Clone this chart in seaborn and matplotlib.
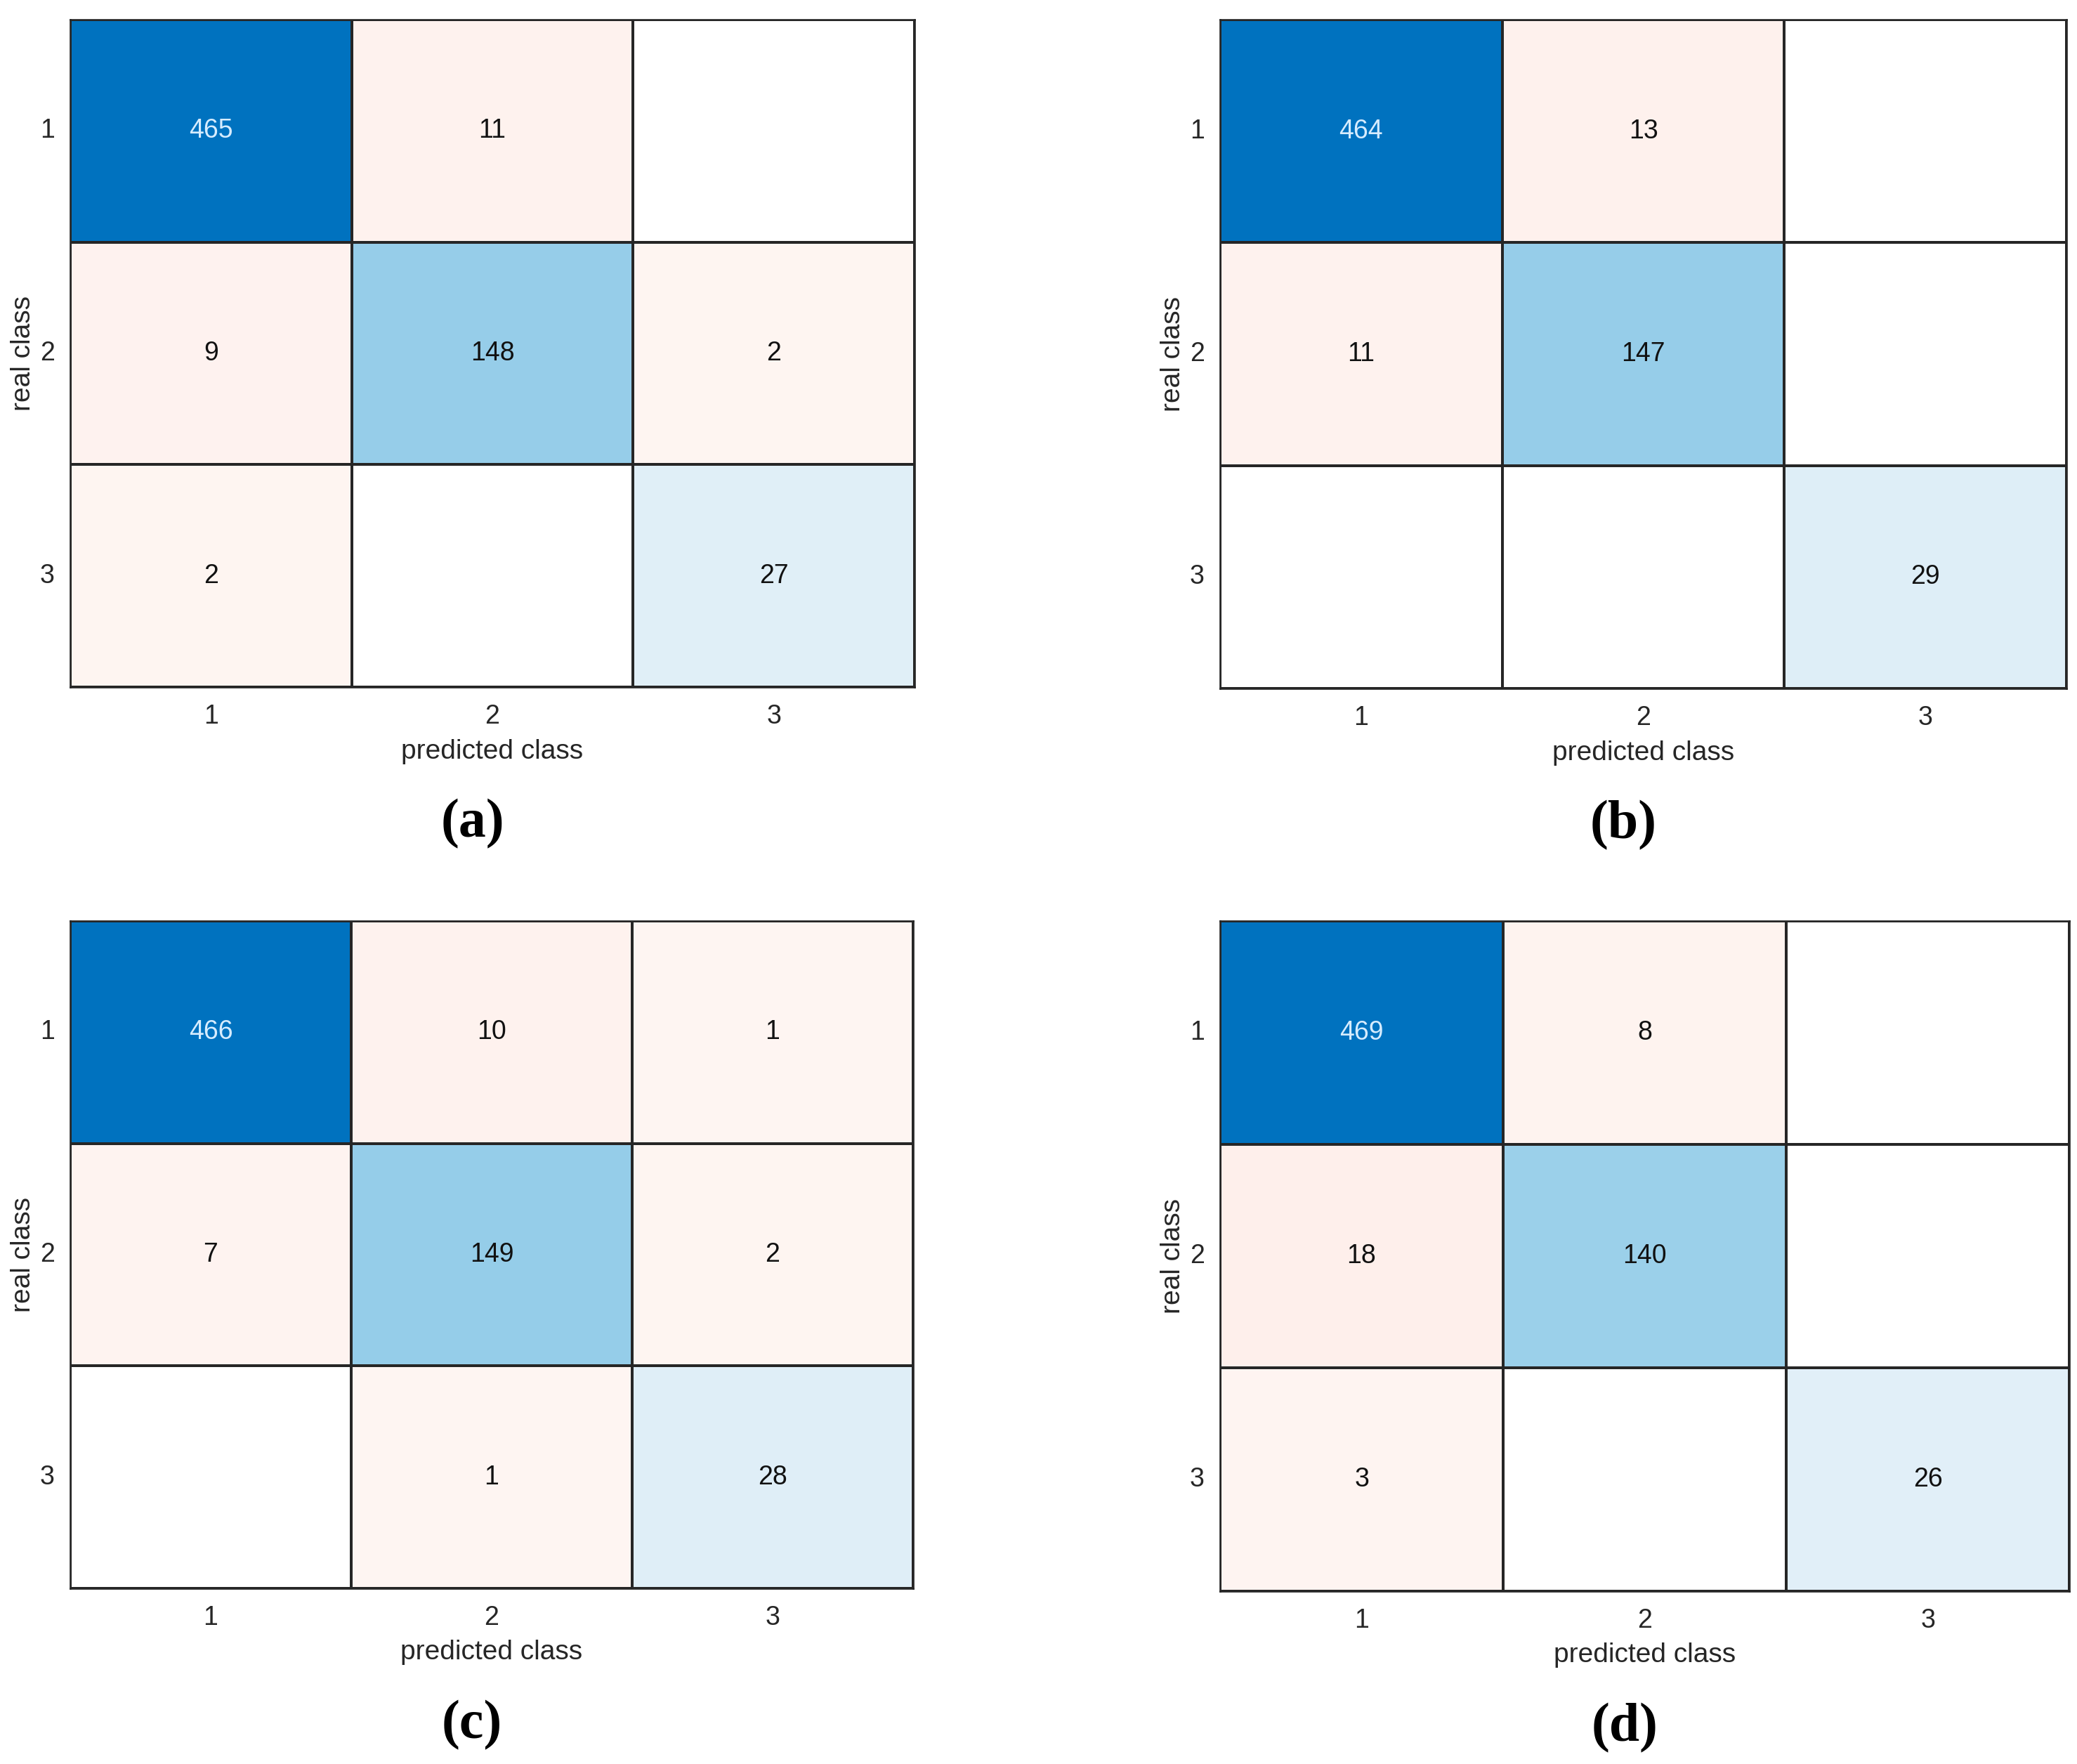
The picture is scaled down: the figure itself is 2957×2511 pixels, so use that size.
import numpy as np
import matplotlib
matplotlib.use("Agg")
import matplotlib.pyplot as plt
import seaborn as sns
from matplotlib.colors import LinearSegmentedColormap

# ---- data ----
classes = ["1", "2", "3"]
panel_labels = ["(a)", "(b)", "(c)", "(d)"]
cm_a = [[465, 11, 0], [9, 148, 2], [2, 0, 27]]
cm_b = [[464, 13, 0], [11, 147, 0], [0, 0, 29]]
cm_c = [[466, 10, 1], [7, 149, 2], [0, 1, 28]]
cm_d = [[469, 8, 0], [18, 140, 0], [3, 0, 26]]
matrices = [cm_a, cm_b, cm_c, cm_d]

# ---- style ----
sns.set_theme(style="white")
plt.rcParams["font.family"] = ["Liberation Sans", "DejaVu Sans"]

W, H = 2957, 2511
DPI = 100
fig = plt.figure(figsize=(W / DPI, H / DPI), dpi=DPI)

blue_cmap = LinearSegmentedColormap.from_list(
    "diag", [(0.0, "#ffffff"), (0.06, "#dfeef7"), (0.32, "#95cde9"), (1.0, "#0072bf")], N=4096)
pink_cmap = LinearSegmentedColormap.from_list(
    "offdiag", [(0.0, "#ffffff"), (0.0015, "#fef5f2"), (0.04, "#feefeb"), (1.0, "#d95319")], N=8192)

# axes rectangles in pixel coords: left, top, right, bottom
rects_px = [(100, 28, 1302, 978), (1737, 28, 2942, 980),
            (100, 1311, 1300, 2261), (1737, 1311, 2946, 2265)]

text_col = "#262626"
fs = 27
line_c = "#262626"
lw = 1.6

for mat, lab, (l, t, r, b) in zip(matrices, panel_labels, rects_px):
    ax = fig.add_axes([l / W, 1 - b / H, (r - l) / W, (b - t) / H])
    m = np.array(mat)
    eye = np.eye(len(classes), dtype=bool)
    annot = np.where(m > 0, m.astype(str), "")
    vmax = m.max()
    sns.heatmap(m, mask=~eye, cmap=blue_cmap, vmin=0, vmax=vmax, cbar=False,
                annot=annot, fmt="", annot_kws={"fontsize": fs},
                linewidths=lw, linecolor=line_c, ax=ax,
                xticklabels=classes, yticklabels=classes)
    sns.heatmap(m, mask=eye, cmap=pink_cmap, vmin=0, vmax=vmax, cbar=False,
                annot=annot, fmt="", annot_kws={"fontsize": fs},
                linewidths=lw, linecolor=line_c, ax=ax,
                xticklabels=classes, yticklabels=classes)
    for txt in ax.texts:
        if txt.get_text() == str(vmax):
            txt.set_color("#d6ecff")
        else:
            txt.set_color("#111111")
    for s in ax.spines.values():
        s.set_visible(True)
        s.set_color(line_c)
        s.set_linewidth(lw * 1.2)
    ax.tick_params(axis="both", length=0, labelsize=fs, colors=text_col)
    ax.tick_params(axis="x", pad=17)
    ax.tick_params(axis="y", pad=16)
    plt.setp(ax.get_yticklabels(), rotation=0)
    ax.set_xlabel("predicted class", fontsize=fs + 1, color=text_col, labelpad=10)
    ax.set_ylabel("real class", fontsize=fs + 1, color=text_col, labelpad=4)
    cx = ((l + r) / 2 - 28) / W
    fig.text(cx, 1 - (b + 195) / H, lab, ha="center", va="center",
             fontsize=56, fontweight="bold", family=["Liberation Serif", "DejaVu Serif"],
             color="black")

fig.savefig("out.png", dpi=DPI, facecolor="white")
